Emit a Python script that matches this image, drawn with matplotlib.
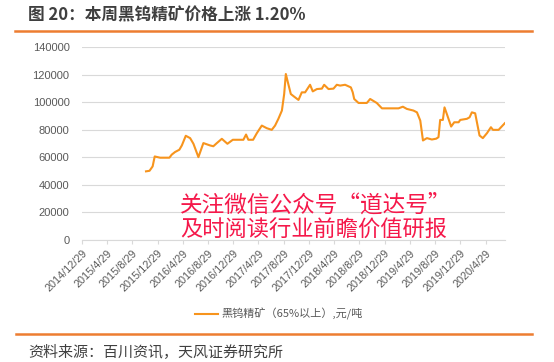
import matplotlib
matplotlib.use("Agg")
import matplotlib.pyplot as plt
import pandas as pd
from matplotlib.lines import Line2D

# ---- data ----
dates = ["2015-11-03", "2015-11-20", "2015-12-05", "2015-12-15", "2016-01-10", "2016-02-24",
         "2016-03-06", "2016-03-22", "2016-04-12", "2016-04-24", "2016-05-13", "2016-06-03",
         "2016-06-19", "2016-07-13", "2016-08-06", "2016-09-07", "2016-09-23", "2016-10-10",
         "2016-11-03", "2016-11-30", "2016-12-26", "2017-02-15", "2017-02-28", "2017-03-11",
         "2017-04-03", "2017-04-21", "2017-05-15", "2017-06-08", "2017-07-02", "2017-07-18",
         "2017-08-03", "2017-08-20", "2017-08-31", "2017-09-08", "2017-09-16", "2017-10-02",
         "2017-10-18", "2017-11-08", "2017-11-24", "2017-12-10", "2018-01-03", "2018-01-16",
         "2018-02-05", "2018-03-01", "2018-03-12", "2018-04-02", "2018-04-26", "2018-05-12",
         "2018-05-28", "2018-06-21", "2018-07-19", "2018-07-28", "2018-08-04", "2018-08-25",
         "2018-10-04", "2018-10-20", "2018-11-21", "2018-12-16", "2019-03-06", "2019-03-27",
         "2019-04-15", "2019-05-17", "2019-06-03", "2019-06-19", "2019-07-02", "2019-07-21",
         "2019-08-14", "2019-09-04", "2019-09-15", "2019-09-23", "2019-10-06", "2019-10-14",
         "2019-10-25", "2019-11-15", "2019-11-30", "2019-12-21", "2019-12-29", "2020-01-30",
         "2020-02-12", "2020-02-23", "2020-03-10", "2020-03-31", "2020-04-16", "2020-05-06",
         "2020-05-25", "2020-06-04", "2020-07-01", "2020-07-31"]
prices = [49800, 50200, 53400, 60600, 59700, 59700,
          61900, 63800, 65500, 68600, 75600, 73900,
          69800, 60100, 70300, 68600, 68000, 70300,
          73400, 69800, 72700, 72700, 76500, 72700,
          72700, 77500, 83000, 81100, 79900, 83000,
          87900, 93900, 105900, 120400, 115500, 105900,
          104000, 101600, 107100, 107100, 112600, 107800,
          109500, 109800, 112600, 109500, 109800, 112600,
          112000, 112600, 110700, 107100, 102300, 99400,
          99400, 102300, 99400, 95500, 95500, 96700,
          95100, 93900, 92600, 86600, 72200, 73900,
          72900, 73500, 74600, 87100, 87100, 96200,
          91500, 82300, 85400, 85400, 87100, 87900,
          89000, 92600, 91900, 75800, 73900, 77500,
          81800, 79900, 79900, 84700]
tick_labels = ["2014/12/29", "2015/4/29", "2015/8/29", "2015/12/29", "2016/4/29",
               "2016/8/29", "2016/12/29", "2017/4/29", "2017/8/29", "2017/12/29",
               "2018/4/29", "2018/8/29", "2018/12/29", "2019/4/29", "2019/8/29",
               "2019/12/29", "2020/4/29"]
y_ticks = [0, 20000, 40000, 60000, 80000, 100000, 120000, 140000]
series_name = "黑钨精矿（65%以上）,元/吨"
title = "图 20：本周黑钨精矿价格上涨 1.20%"
source = "资料来源：百川资讯，天风证券研究所"
watermark = ["关注微信公众号“道达号”", "及时阅读行业前瞻价值研报"]

CJK = ["Noto Sans CJK SC", "DejaVu Sans"]
NUM = ["Liberation Sans", "Noto Sans CJK SC"]
grey = "#595959"
orange = "#f7941d"
rule = "#ed7d31"

W, H = 554, 362
fig = plt.figure(figsize=(W / 100, H / 100), dpi=100)
ax = fig.add_axes([82 / W, 1 - 240 / H, (505 - 82) / W, (240 - 47) / H])

x = pd.to_datetime(dates)
ax.plot(x, prices, color=orange, lw=1.5, solid_joinstyle="round")

tick_dates = pd.to_datetime(tick_labels, format="%Y/%m/%d")
ax.set_xlim(tick_dates[0], pd.Timestamp("2020-08-01"))
ax.set_xticks(tick_dates)
ax.set_xticklabels(tick_labels, rotation=45, ha="right", va="top",
                   rotation_mode="anchor", family=NUM, fontsize=7.8, color=grey)
ax.set_ylim(0, 140000)
ax.set_yticks(y_ticks)
ax.set_yticklabels([str(v) for v in y_ticks], family=NUM, fontsize=8, color=grey)

ax.grid(axis="y", color="#d9d9d9", lw=0.8)
ax.set_axisbelow(True)
for s in ["top", "right", "left"]:
    ax.spines[s].set_visible(False)
ax.spines["bottom"].set_color("#d9d9d9")
ax.spines["bottom"].set_linewidth(0.8)
ax.tick_params(axis="y", length=0, pad=9)
ax.tick_params(axis="x", length=3, color="#d9d9d9", pad=3)

# title & rules
fig.text(28 / W, 1 - 15 / H, title, family=CJK, fontsize=12, fontweight="bold",
         color="#3f3f3f", va="center", ha="left")
fig.add_artist(Line2D([15 / W, 532 / W], [1 - 31 / H, 1 - 31 / H], color=rule, lw=1.8))
fig.add_artist(Line2D([16 / W, 532 / W], [1 - 334 / H, 1 - 334 / H], color=rule, lw=1.8))
fig.text(28 / W, 1 - 353 / H, source, family=CJK, fontsize=10.8, color="#404040",
         va="center", ha="left")

# legend
fig.add_artist(Line2D([195 / W, 218 / W], [1 - 314 / H, 1 - 314 / H], color=orange, lw=1.5))
fig.text(221 / W, 1 - 314 / H, series_name, family=CJK, fontsize=8, color=grey,
         va="center", ha="left")

# watermark
fig.text(180 / W, 1 - 205 / H, watermark[0], family=CJK, fontsize=16.3, color="#f5184a",
         va="center", ha="left")
fig.text(180 / W, 1 - 230 / H, watermark[1], family=CJK, fontsize=16, color="#f5184a",
         va="center", ha="left")

fig.savefig("out.png", dpi=100)
